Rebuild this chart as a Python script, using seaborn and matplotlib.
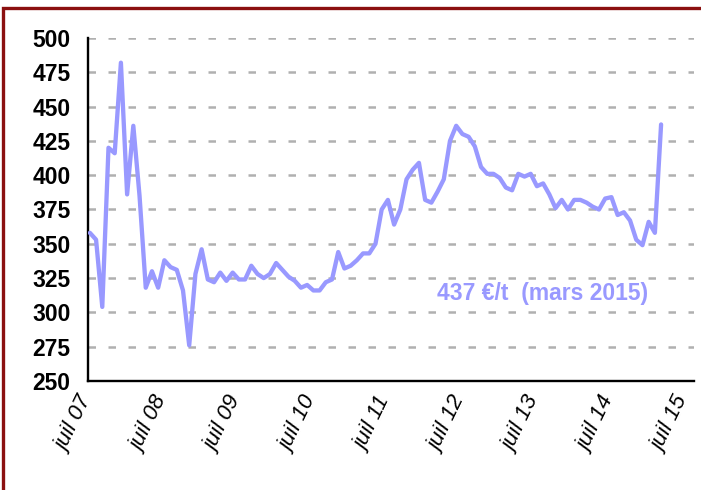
import numpy as np
import pandas as pd
import matplotlib
matplotlib.use("Agg")
import matplotlib.pyplot as plt
from matplotlib.patches import Rectangle
import seaborn as sns

# monthly prices (€/t), juil 2007 .. mars 2015
prices = [358, 353, 304, 420, 416, 482, 386, 436, 385, 318, 330, 318,
          338, 333, 331, 316, 276, 328, 346, 324, 322, 329, 323, 329,
          324, 324, 334, 328, 325, 328, 336, 331, 326, 323, 318, 320,
          316, 316, 322, 324, 344, 332, 334, 338, 343, 343, 350, 375,
          382, 364, 375, 397, 404, 409, 382, 380, 388, 397, 425, 436,
          430, 428, 421, 406, 401, 401, 398, 391, 389, 401, 399, 401,
          392, 394, 386, 376, 382, 375, 382, 382, 380, 377, 375, 383,
          384, 371, 373, 367, 353, 349, 366, 358, 437]
tick_labels = ["juil 07", "juil 08", "juil 09", "juil 10", "juil 11",
               "juil 12", "juil 13", "juil 14", "juil 15"]
y_ticks = [250, 275, 300, 325, 350, 375, 400, 425, 450, 475, 500]
annotation = "437 €/t  (mars 2015)"

months = np.arange(len(prices)) + 0.3
df = pd.DataFrame({"mois": months, "prix": prices})

sns.set_style("white")
plt.rcParams["font.family"] = ["Liberation Sans", "DejaVu Sans"]

W, H = 701, 490
fig = plt.figure(figsize=(W / 100, H / 100), dpi=100)
ax = fig.add_axes([88 / W, 1 - 381 / H, (694 - 88) / W, (381 - 38) / H])

sns.lineplot(data=df, x="mois", y="prix", ax=ax, color="#9999FF",
             linewidth=3.1, zorder=3)

ax.set_xlim(0, 97.6)
ax.set_ylim(250, 500)
ax.set_yticks(y_ticks)
ax.set_xticks(np.arange(len(tick_labels)) * 12)
ax.set_xticklabels(tick_labels, rotation=64, ha="right", va="center",
                   rotation_mode="anchor", fontstyle="italic", fontsize=16)
ax.set_yticklabels([str(v) for v in y_ticks], fontweight="bold", fontsize=16.5)
ax.set_xlabel("")
ax.set_ylabel("")

for v in y_ticks[1:]:
    ax.axhline(v, color="#B0B0B0", linewidth=1.8, linestyle=(0, (3.0, 5.0)),
               zorder=1)

for s in ["top", "right"]:
    ax.spines[s].set_visible(False)
for s in ["left", "bottom"]:
    ax.spines[s].set_color("black")
    ax.spines[s].set_linewidth(1.7)
ax.tick_params(axis="both", direction="out", length=4.5, width=1.3,
               color="black", labelcolor="black")
ax.tick_params(axis="y", pad=8)
ax.tick_params(axis="x", pad=8)

ax.text(56.2, 314, annotation, color="#9999FF", fontsize=16.5,
        fontweight="bold", ha="left", va="center")

fig.patches.append(Rectangle((3 / W, -0.1), 1.2, 1 - 8 / H + 0.1,
                             transform=fig.transFigure, fill=False,
                             edgecolor="#8B1010", linewidth=2.4))

fig.savefig("out.png", dpi=100)
